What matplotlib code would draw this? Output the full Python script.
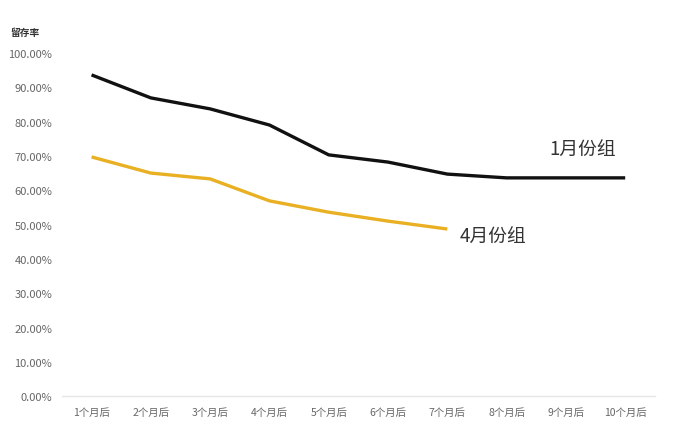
import matplotlib
matplotlib.use("Agg")
import matplotlib.pyplot as plt
from matplotlib.ticker import FuncFormatter

plt.rcParams['font.family'] = ['Noto Sans CJK SC', 'DejaVu Sans']

categories = ["1个月后", "2个月后", "3个月后", "4个月后", "5个月后",
              "6个月后", "7个月后", "8个月后", "9个月后", "10个月后"]
jan_group = [93.6, 86.9, 83.7, 79.0, 70.3, 68.2, 64.7, 63.6, 63.6, 63.6]
apr_group = [69.7, 65.0, 63.3, 56.9, 53.6, 51.0, 48.7]
yticks = [0, 10, 20, 30, 40, 50, 60, 70, 80, 90, 100]

fig = plt.figure(figsize=(6.73, 4.35), dpi=100)
ax = fig.add_axes([0.092, 0.087, 0.881, 0.789])

x1 = list(range(len(jan_group)))
x2 = list(range(len(apr_group)))
ax.plot(x1, jan_group, color="#111111", lw=2.4, solid_capstyle="butt", clip_on=False)
ax.plot(x2, apr_group, color="#E9B024", lw=2.4, solid_capstyle="butt", clip_on=False)

ax.set_xlim(-0.5, len(categories) - 0.5)
ax.set_ylim(0, 100)
ax.set_xticks(range(len(categories)))
ax.set_xticklabels(categories)
ax.set_yticks(yticks)
ax.yaxis.set_major_formatter(FuncFormatter(lambda v, p: f"{v:.2f}%"))

for s in ["top", "right", "left"]:
    ax.spines[s].set_visible(False)
ax.spines["bottom"].set_color("#e6e6e6")
ax.spines["bottom"].set_linewidth(1.0)
ax.tick_params(axis="both", length=0, colors="#666666")
ax.tick_params(axis="y", labelsize=8, pad=7)
ax.tick_params(axis="x", labelsize=7.5, pad=8)

ax.text(7.72, 72.0, "1月份组", fontsize=13.5, color="#333333",
        ha="left", va="center")
ax.text(6.2, 46.4, "4月份组", fontsize=13.5, color="#333333",
        ha="left", va="center")

fig.text(0.015, 0.924, "留存率", fontsize=7, color="#333333", ha="left", va="center",
         fontweight="bold")

fig.savefig("out.png", dpi=100)
